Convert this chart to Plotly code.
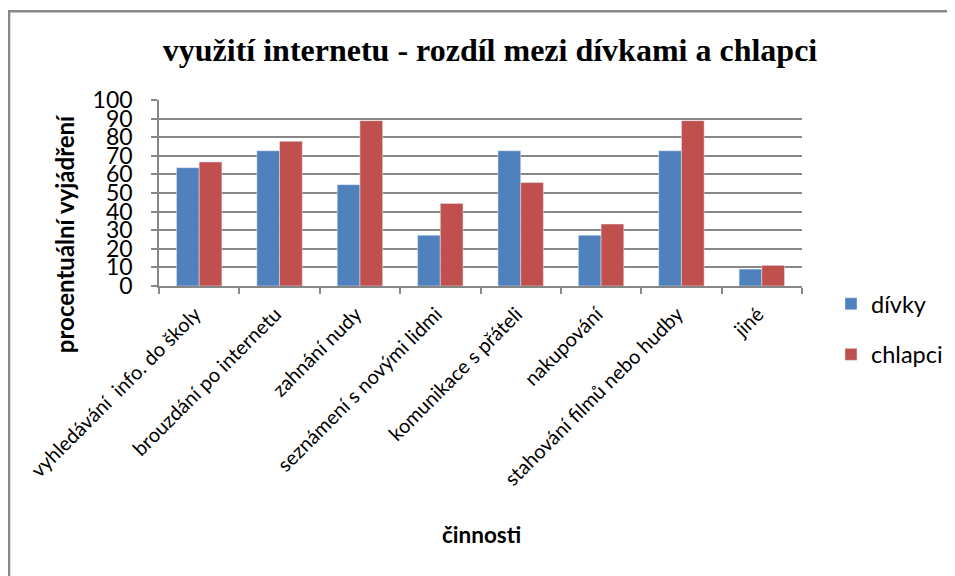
import plotly.graph_objects as go

categories = [
    "vyhledávání  info. do školy",
    "brouzdání po internetu",
    "zahnání nudy",
    "seznámení s novými lidmi",
    "komunikace s přáteli",
    "nakupování",
    "stahování filmů nebo hudby",
    "jiné",
]
divky = [63.6, 72.7, 54.5, 27.3, 72.7, 27.3, 72.7, 9.1]
chlapci = [66.7, 77.8, 88.9, 44.4, 55.6, 33.3, 88.9, 11.1]
y_ticks = [0, 10, 20, 30, 40, 50, 60, 70, 80, 90, 100]

# page has an 8px body margin, so work in page pixels and shift
OFF = 8
W, H = 955 - OFF, 576 - OFF
L, R, T, B = 159 - OFF, 802 - OFF, 99.5 - OFF, 286 - OFF
pw, ph = R - L, B - T


def px_x(x):
    return (x - OFF - L) / pw


def px_y(y):
    return (B - (y - OFF)) / ph


fig = go.Figure()
fig.add_trace(go.Bar(x=categories, y=divky, name="dívky", marker_color="#4F81BD",
                     legendgroup="a"))
fig.add_trace(go.Bar(x=categories, y=chlapci, name="chlapci", marker_color="#C0504D",
                     legendgroup="b"))

grey = "#878787"
font_main = "Lato, 'Open Sans', sans-serif"

fig.update_layout(
    width=W, height=H,
    margin=dict(l=L, r=W - R, t=T, b=H - B, pad=0, autoexpand=False),
    plot_bgcolor="white", paper_bgcolor="white",
    barmode="group", bargap=0.435, bargroupgap=0,
    font=dict(family=font_main, color="black"),
    title=dict(text="<b>využití internetu - rozdíl mezi dívkami a chlapci</b>",
               font=dict(family="Liberation Serif, serif", size=32, color="black"),
               xref="container", x=(490 - OFF) / W, xanchor="center",
               yref="container", y=1 - (50 - OFF) / H, yanchor="middle"),
    legend=dict(xref="container", yref="container",
                x=(831 - OFF) / W, xanchor="left", y=1 - (282 - OFF) / H, yanchor="top",
                font=dict(size=23.5, family=font_main), traceorder="grouped",
                tracegroupgap=17, bgcolor="rgba(0,0,0,0)"),
    xaxis=dict(showline=True, linecolor=grey, linewidth=1.5,
               ticks="outside", tickson="boundaries", ticklen=6, tickcolor=grey,
               tickwidth=1.5, tickangle=-45, tickfont=dict(size=20, family=font_main),
               ticklabelstandoff=7, ticklabelshift=-4,
               showgrid=False, automargin=False),
    yaxis=dict(range=[0, 100], tickvals=y_ticks, showline=True, linecolor=grey,
               linewidth=1.5, ticks="outside", ticklen=6, tickcolor=grey, tickwidth=1.5,
               showgrid=True, gridcolor=grey, gridwidth=1.5, zeroline=False,
               tickfont=dict(size=23, family=font_main), ticklabelstandoff=14,
               automargin=False),
    showlegend=True,
)

# Axis titles
fig.add_annotation(text="<b>procentuální vyjádření</b>", textangle=-90,
                   xref="paper", yref="paper", x=px_x(64), y=px_y(234),
                   xanchor="center", yanchor="middle",
                   showarrow=False, font=dict(size=24, family=font_main))
fig.add_annotation(text="<b>činnosti</b>",
                   xref="paper", yref="paper", x=px_x(481), y=px_y(535),
                   xanchor="center", yanchor="middle",
                   showarrow=False, font=dict(size=22.5, family=font_main))

# Chart border (top and left visible)
fig.add_shape(type="line", xref="paper", yref="paper",
              x0=px_x(8), x1=px_x(970), y0=px_y(10.5), y1=px_y(10.5),
              line=dict(color=grey, width=2.5))
fig.add_shape(type="line", xref="paper", yref="paper",
              x0=px_x(9), x1=px_x(9), y0=px_y(10), y1=px_y(590),
              line=dict(color=grey, width=2.5))

fig.write_html("out.html")
